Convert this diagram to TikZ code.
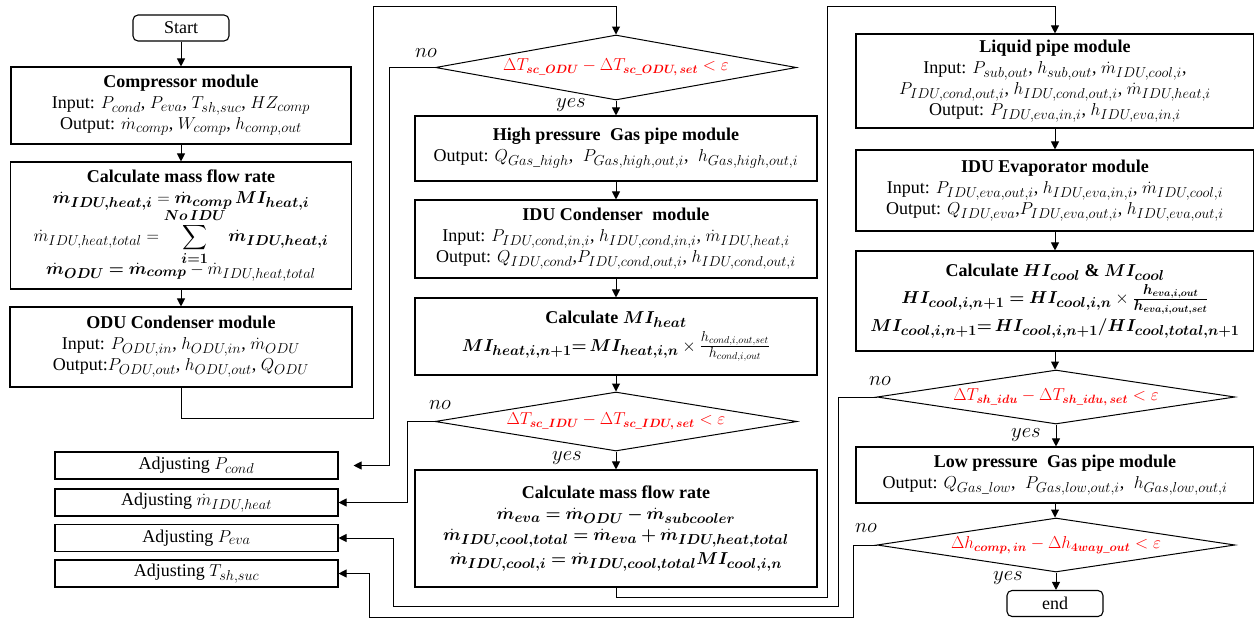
\documentclass[tikz,border=0pt]{standalone}
\usepackage{amsmath}
\usepackage{bm}
\usepackage{fontspec}
\setmainfont{Liberation Serif}
\usetikzlibrary{arrows.meta,shapes.geometric}

\DeclareMathSizes{18}{18}{13.5}{10}
\DeclareMathSizes{17}{17}{12.5}{9}
\DeclareMathSizes{20}{20}{14}{10}
\newcommand{\diagfont}{\fontsize{18}{21}\selectfont}
\newcommand{\bsub}[1]{\text{\boldmath$#1$}}

\tikzset{
  module/.style={draw, line width=1.1pt, inner sep=1pt, align=center, font=\diagfont},
  terminal/.style={draw, rounded corners=5pt, line width=1.1pt, minimum width=96pt, minimum height=26pt, font=\diagfont},
  adjbox/.style={draw, line width=1.1pt, minimum width=283pt, minimum height=27pt, font=\diagfont},
  decision/.style={draw, diamond, line width=1pt, inner sep=0pt, text=red, font=\fontsize{17}{19}\selectfont},
  link/.style={line width=1pt, -{Triangle[length=8pt,width=8pt]}},
  answer/.style={font=\fontsize{20}{22}\selectfont, inner sep=0pt}
}

\begin{document}
\begin{tikzpicture}[x=1pt,y=-1pt]
\useasboundingbox (0,0) rectangle (1254,619);

% ---------- left column ----------
\node[terminal] (start) at (181,28) {Start};
\node[module, minimum width=340pt, minimum height=77pt] (comp) at (181,105.5)
  {\textbf{Compressor module}\\
   Input: $P_{cond}$, $P_{eva}$, $T_{sh,suc}$, $HZ_{comp}$\\
   Output: $\dot m_{comp}$, $W_{comp}$, $h_{comp,out}$};
\node[module, minimum width=341pt, minimum height=127pt] (mfa) at (181,225.5)
  {\textbf{Calculate mass flow rate}\\
   $\bm{\dot m_{IDU,heat,i}} = \bm{\dot m_{comp}\,MI_{heat,i}}$\\[-3pt]
   $\dot m_{IDU,heat,total} = \displaystyle\sum_{\bm{i=1}}^{\bm{No\,IDU}} \bm{\dot m_{IDU,heat,i}}$\\[-4pt]
   $\bm{\dot m_{ODU} = \dot m_{comp}} - \dot m_{IDU,heat,total}$};
\node[module, minimum width=342pt, minimum height=80pt] (odu) at (181,347)
  {\textbf{ODU Condenser module}\\
   Input: $P_{ODU,in}$, $h_{ODU,in}$, $\dot m_{ODU}$\\
   Output:$P_{ODU,out}$, $h_{ODU,out}$, $Q_{ODU}$};

\node[adjbox] (adjpc) at (196.5,465.5) {Adjusting $P_{cond}$};
\node[adjbox] (adjmh) at (196.5,502.5) {Adjusting $\dot m_{IDU,heat}$};
\node[adjbox] (adjpe) at (196.5,538) {Adjusting $P_{eva}$};
\node[adjbox] (adjts) at (196.5,573.5) {Adjusting $T_{sh,suc}$};

% ---------- middle column ----------
\node[decision, minimum width=361pt, minimum height=65pt] (d1) at (616,67.5)
  {\makebox[0pt]{$\Delta T_{\bsub{sc\_ODU}} - \Delta T_{\bsub{sc\_ODU,set}} < \varepsilon$}};
\node[module, minimum width=402pt, minimum height=65pt] (hpg) at (616,148.5)
  {\textbf{High pressure\; Gas pipe module}\\
   Output: $Q_{Gas\_high}$,\; $P_{Gas,high,out,i}$,\; $h_{Gas,high,out,i}$};
\node[module, minimum width=402pt, minimum height=78pt] (iduc) at (616,239)
  {\textbf{IDU Condenser\; module}\\
   Input: $P_{IDU,cond,in,i}$, $h_{IDU,cond,in,i}$, $\dot m_{IDU,heat,i}$\\
   Output: $Q_{IDU,cond}$,$P_{IDU,cond,out,i}$, $h_{IDU,cond,out,i}$};
\node[module, minimum width=402pt, minimum height=77pt] (mih) at (616,336.5)
  {\textbf{Calculate $\bm{MI_{heat}}$}\\[3pt]
   $\bm{MI_{heat,i,n+1}{=}\,MI_{heat,i,n}}\times\frac{h_{cond,i,out,set}}{h_{cond,i,out}}$};
\node[decision, minimum width=362pt, minimum height=59pt] (d2) at (616,421.5)
  {\makebox[0pt]{$\Delta T_{\bsub{sc\_IDU}} - \Delta T_{\bsub{sc\_IDU,set}} < \varepsilon$}};
\node[module, minimum width=402pt, minimum height=117pt] (mfb) at (616,528.5)
  {\textbf{Calculate mass flow rate}\\
   $\bm{\dot m_{eva} = \dot m_{ODU} - \dot m_{subcooler}}$\\
   $\bm{\dot m_{IDU,cool,total} = \dot m_{eva} + \dot m_{IDU,heat,total}}$\\[3pt]
   $\bm{\dot m_{IDU,cool,i} =\dot m_{IDU,cool,total}MI_{cool,i,n}}$};

% ---------- right column ----------
\node[module, minimum width=398pt, minimum height=94pt] (liq) at (1055,81)
  {\textbf{Liquid pipe module}\\
   Input: $P_{sub,out}$, $h_{sub,out}$, $\dot m_{IDU,cool,i}$,\\
   $P_{IDU,cond,out,i}$, $h_{IDU,cond,out,i}$, $\dot m_{IDU,heat,i}$\\
   Output: $P_{IDU,eva,in,i}$, $h_{IDU,eva,in,i}$};
\node[module, minimum width=398pt, minimum height=81pt] (evap) at (1055,190.5)
  {\textbf{IDU Evaporator module}\\
   Input: $P_{IDU,eva,out,i}$, $h_{IDU,eva,in,i}$, $\dot m_{IDU,cool,i}$\\
   Output: $Q_{IDU,eva}$,$P_{IDU,eva,out,i}$, $h_{IDU,eva,out,i}$};
\node[module, minimum width=398pt, minimum height=100pt] (hic) at (1055,301)
  {\textbf{Calculate $\bm{HI_{cool}}$ \& $\bm{MI_{cool}}$}\\[3pt]
   $\bm{HI_{cool,i,n+1} = HI_{cool,i,n}}\times\bm{\frac{h_{eva,i,out}}{h_{eva,i,out,set}}}$\\[3pt]
   $\bm{MI_{cool,i,n+1}{=}\, HI_{cool,i,n+1}/HI_{cool,total,n+1}}$};
\node[decision, minimum width=358pt, minimum height=54pt] (d3) at (1056,397)
  {\makebox[0pt]{$\Delta T_{\bsub{sh\_idu}} - \Delta T_{\bsub{sh\_idu,set}} < \varepsilon$}};
\node[module, minimum width=398pt, minimum height=56pt] (lpg) at (1055,475)
  {\textbf{Low pressure\; Gas pipe module}\\
   Output: $Q_{Gas\_low}$,\; $P_{Gas,low,out,i}$,\; $h_{Gas,low,out,i}$};
\node[decision, minimum width=358pt, minimum height=54pt] (d4) at (1056,545)
  {\makebox[0pt]{$\Delta h_{\bsub{comp,in}} - \Delta h_{\bsub{4way\_out}} < \varepsilon$}};
\node[terminal] (stop) at (1055,603.5) {end};

% ---------- branch labels ----------
\node[answer] (no1) at (426,53) {$no$};
\node[answer] (yes1) at (571,105) {$yes$};
\node[answer] (no2) at (440,405) {$no$};
\node[answer] (yes2) at (567,458) {$yes$};
\node[answer] (no3) at (880,381) {$no$};
\node[answer] (yes3) at (1026,435) {$yes$};
\node[answer] (no4) at (866,528) {$no$};
\node[answer] (yes4) at (1008,578) {$yes$};

% ---------- main flow ----------
\draw[link] (start) -- (comp);
\draw[link] (comp) -- (mfa);
\draw[link] (mfa) -- (odu);
\draw[link] (odu.south) -- (181,418) -| (373,6) -| (d1.north);
\draw[link] (d1.south) -- (d1.south |- hpg.north);
\draw[link] (hpg) -- (iduc);
\draw[link] (iduc) -- (mih);
\draw[link] (mih.south) -- (d2.north);
\draw[link] (d2.south) -- (d2.south |- mfb.north);
\draw[link] (mfb.south) -- (616,597) -| (827,6) -| (liq.north);
\draw[link] (liq) -- (evap);
\draw[link] (evap) -- (hic);
\draw[link] (hic.south) -- (hic.south |- d3.north);
\draw[link] (d3.south) -- (d3.south |- lpg.north);
\draw[link] (lpg.south) -- (lpg.south |- d4.north);
\draw[link] (d4.south) -- (d4.south |- stop.north);

% ---------- feedback loops ----------
\draw[link, shorten >=15pt] (d1.west) -- (389,67.5) |- (adjpc.east);
\draw[link] (d2.west) -- (407,421.5) |- (adjmh.east);
\draw[link] (d3.west) -- (838,397) |- (393,606) |- (adjpe.east);
\draw[link] (d4.west) -- (853,545) |- (369,617) |- (adjts.east);
\end{tikzpicture}
\end{document}
